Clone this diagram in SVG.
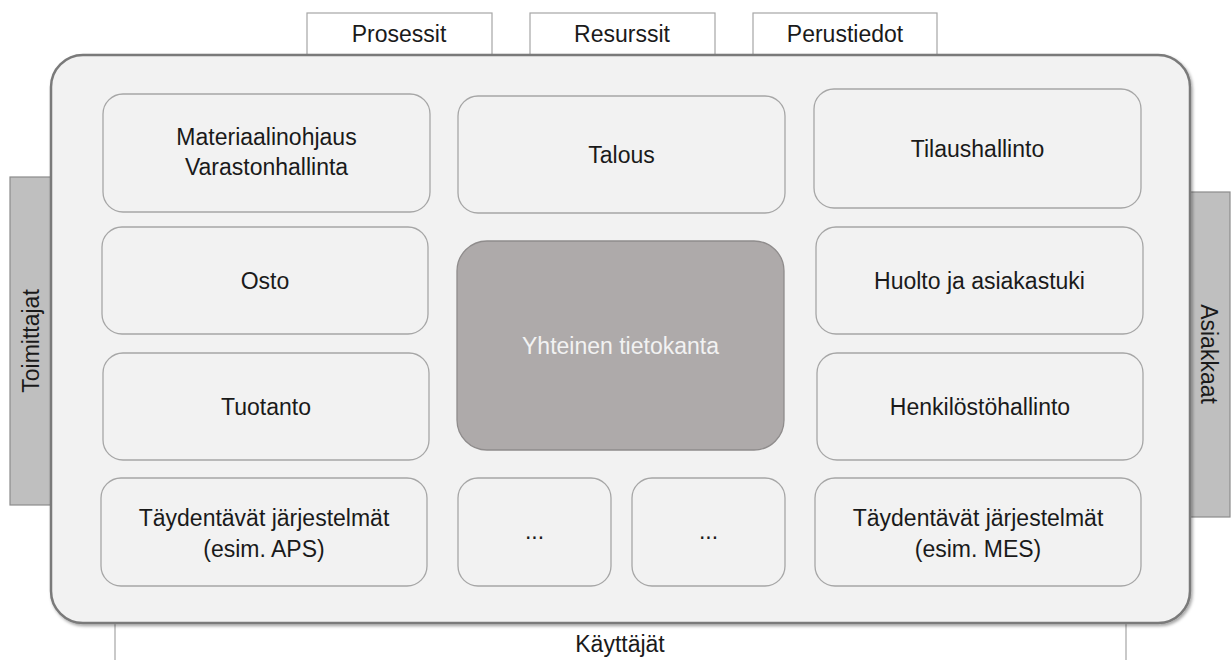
<svg xmlns="http://www.w3.org/2000/svg" width="1232" height="660" viewBox="0 0 1232 660">
<defs>
<style>
text{font-family:"Liberation Sans",Arial,sans-serif;font-size:23px;fill:#1a1a1a;text-anchor:middle}
.tab{fill:#ffffff;stroke:#a6a6a6;stroke-width:1.2}
.side{fill:#bfbfbf;stroke:#8c8c8c;stroke-width:1.2}
.mod{fill:#f2f2f2;stroke:#a6a6a6;stroke-width:1.3}
.db{fill:#aeaaaa;stroke:#8f8c8c;stroke-width:1.3}
.main{fill:#f2f2f2;stroke:#7a7a7a;stroke-width:2.5}
text.light{fill:#f2f2f2}
</style>
<filter id="sh" x="-5%" y="-5%" width="110%" height="110%">
<feDropShadow dx="1.5" dy="2" stdDeviation="1.5" flood-color="#000" flood-opacity="0.35"/>
</filter>
</defs>
<rect width="1232" height="660" fill="#ffffff"/>
<g id="kayttajat">
<rect class="tab" x="115" y="600" width="1011" height="70"/>
<text x="620" y="652">Käyttäjät</text>
</g>
<g id="prosessit">
<rect class="tab" x="307" y="13" width="185" height="50"/>
<text x="399" y="42">Prosessit</text>
</g>
<g id="resurssit">
<rect class="tab" x="530" y="13" width="185" height="50"/>
<text x="622" y="42">Resurssit</text>
</g>
<g id="perustiedot">
<rect class="tab" x="753" y="13" width="184" height="50"/>
<text x="845" y="42">Perustiedot</text>
</g>
<g id="toimittajat">
<rect class="side" x="10" y="177" width="50" height="328"/>
<text transform="translate(39,341) rotate(-90)">Toimittajat</text>
</g>
<g id="asiakkaat">
<rect class="side" x="1180" y="192" width="50" height="325"/>
<text transform="translate(1201,354) rotate(90)">Asiakkaat</text>
</g>
<g id="erp">
<rect class="main" x="51" y="55" width="1139" height="568" rx="32" filter="url(#sh)"/>
</g>
<g id="materiaalinohjaus">
<rect class="mod" x="103" y="94" width="327" height="118" rx="20"/>
<text x="266.5" y="145">Materiaalinohjaus</text>
<text x="266.5" y="175">Varastonhallinta</text>
</g>
<g id="talous">
<rect class="mod" x="458" y="96" width="327" height="117" rx="20"/>
<text x="621.5" y="163">Talous</text>
</g>
<g id="tilaushallinto">
<rect class="mod" x="814" y="89" width="327" height="119" rx="20"/>
<text x="977.5" y="157">Tilaushallinto</text>
</g>
<g id="osto">
<rect class="mod" x="102" y="227" width="326" height="107" rx="20"/>
<text x="265" y="289">Osto</text>
</g>
<g id="tietokanta">
<rect class="db" x="457" y="241" width="327" height="209" rx="30"/>
<text class="light" x="620.5" y="354">Yhteinen tietokanta</text>
</g>
<g id="huolto">
<rect class="mod" x="816" y="227" width="327" height="107" rx="20"/>
<text x="979.5" y="289">Huolto ja asiakastuki</text>
</g>
<g id="tuotanto">
<rect class="mod" x="103" y="353" width="326" height="107" rx="20"/>
<text x="266" y="415">Tuotanto</text>
</g>
<g id="henkilosto">
<rect class="mod" x="817" y="353" width="326" height="107" rx="20"/>
<text x="980" y="415">Henkilöstöhallinto</text>
</g>
<g id="aps">
<rect class="mod" x="101" y="478" width="326" height="108" rx="20"/>
<text x="264" y="526">Täydentävät järjestelmät</text>
<text x="264" y="557">(esim. APS)</text>
</g>
<g id="muu1">
<rect class="mod" x="458" y="478" width="153" height="108" rx="20"/>
<text x="534.5" y="539">...</text>
</g>
<g id="muu2">
<rect class="mod" x="632" y="478" width="153" height="108" rx="20"/>
<text x="708.5" y="539">...</text>
</g>
<g id="mes">
<rect class="mod" x="815" y="478" width="326" height="108" rx="20"/>
<text x="978" y="526">Täydentävät järjestelmät</text>
<text x="978" y="557">(esim. MES)</text>
</g>
<g id="connectors"></g>
</svg>
